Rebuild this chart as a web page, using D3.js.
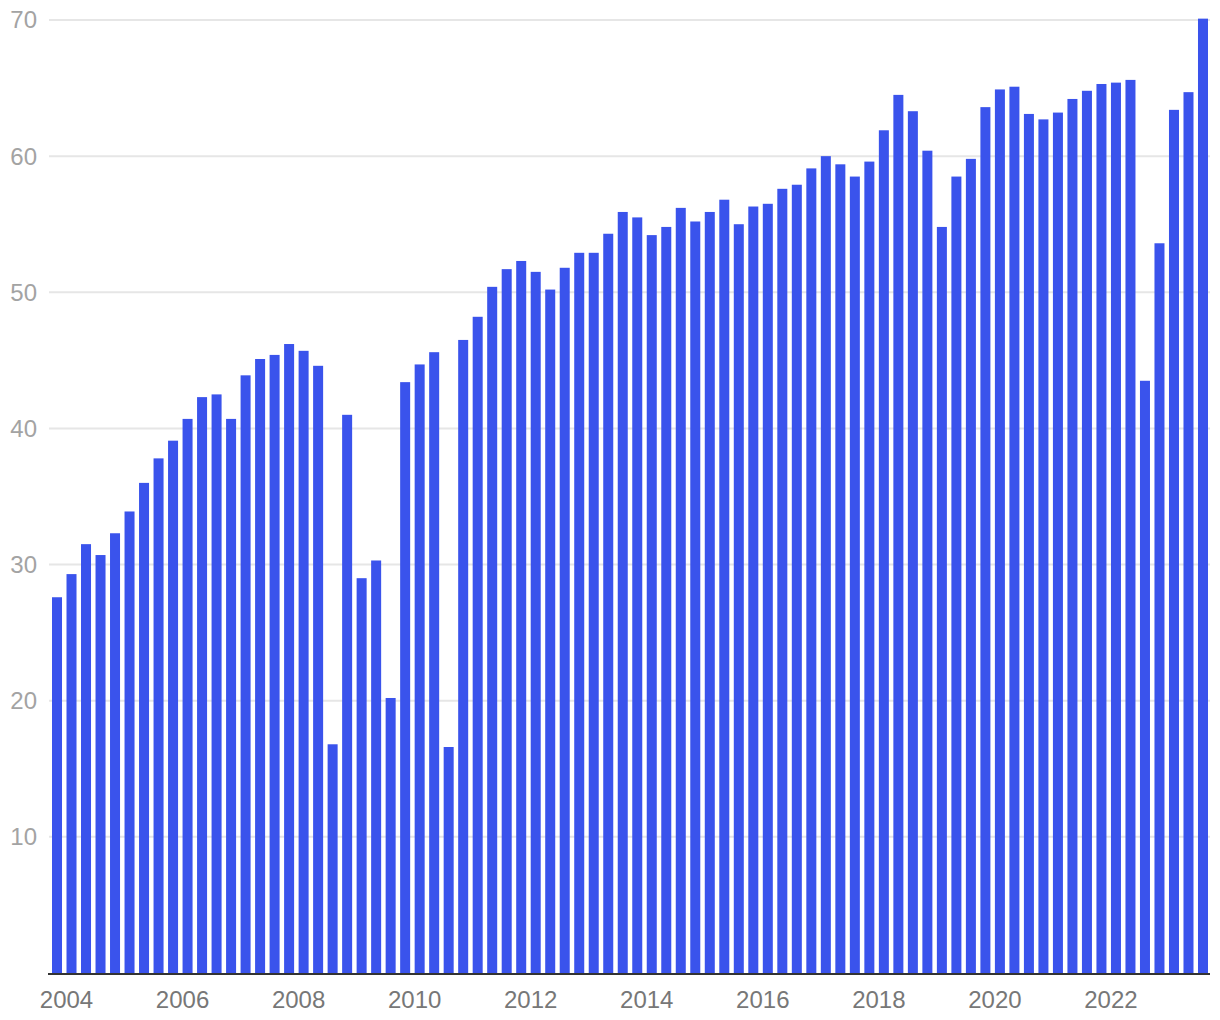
<!DOCTYPE html>
<html>
<head>
<meta charset="utf-8">
<script src="https://cdn.jsdelivr.net/npm/d3@7"></script>
<style>
  html, body { margin: 0; padding: 0; background: #fff; }
  svg { display: block; font-family: "Liberation Sans", Arial, Helvetica, sans-serif; }
</style>
</head>
<body>
<svg id="chart" width="1220" height="1020"></svg>
<script>
// Quarter categories (one bar each)
const quarters = [
  "2003 Q4",
  "2004 Q1","2004 Q2","2004 Q3","2004 Q4",
  "2005 Q1","2005 Q2","2005 Q3","2005 Q4",
  "2006 Q1","2006 Q2","2006 Q3","2006 Q4",
  "2007 Q1","2007 Q2","2007 Q3","2007 Q4",
  "2008 Q1","2008 Q2","2008 Q3","2008 Q4",
  "2009 Q1","2009 Q2","2009 Q3","2009 Q4",
  "2010 Q1","2010 Q2","2010 Q3","2010 Q4",
  "2011 Q1","2011 Q2","2011 Q3","2011 Q4",
  "2012 Q1","2012 Q2","2012 Q3","2012 Q4",
  "2013 Q1","2013 Q2","2013 Q3","2013 Q4",
  "2014 Q1","2014 Q2","2014 Q3","2014 Q4",
  "2015 Q1","2015 Q2","2015 Q3","2015 Q4",
  "2016 Q1","2016 Q2","2016 Q3","2016 Q4",
  "2017 Q1","2017 Q2","2017 Q3","2017 Q4",
  "2018 Q1","2018 Q2","2018 Q3","2018 Q4",
  "2019 Q1","2019 Q2","2019 Q3","2019 Q4",
  "2020 Q1","2020 Q2","2020 Q3","2020 Q4",
  "2021 Q1","2021 Q2","2021 Q3","2021 Q4",
  "2022 Q1","2022 Q2","2022 Q3","2022 Q4",
  "2023 Q1","2023 Q2","2023 Q3"
];

// Values
const values = [
  27.6,
  29.3, 31.5, 30.7, 32.3,
  33.9, 36.0, 37.8, 39.1,
  40.7, 42.3, 42.5, 40.7,
  43.9, 45.1, 45.4, 46.2,
  45.7, 44.6, 16.8, 41.0,
  29.0, 30.3, 20.2, 43.4,
  44.7, 45.6, 16.6, 46.5,
  48.2, 50.4, 51.7, 52.3,
  51.5, 50.2, 51.8, 52.9,
  52.9, 54.3, 55.9, 55.5,
  54.2, 54.8, 56.2, 55.2,
  55.9, 56.8, 55.0, 56.3,
  56.5, 57.6, 57.9, 59.1,
  60.0, 59.4, 58.5, 59.6,
  61.9, 64.5, 63.3, 60.4,
  54.8, 58.5, 59.8, 63.6,
  64.9, 65.1, 63.1, 62.7,
  63.2, 64.2, 64.8, 65.3,
  65.4, 65.6, 43.5, 53.6,
  63.4, 64.7, 70.1
];

// Axis tick labels
const yTicks = [10, 20, 30, 40, 50, 60, 70];
const xTickYears = ["2004", "2006", "2008", "2010", "2012", "2014", "2016", "2018", "2020", "2022"];

const data = quarters.map((q, i) => ({ q, v: values[i] }));

const svg = d3.select("#chart");

const x = d3.scaleBand()
  .domain(quarters)
  .range([52, 1208])
  .paddingInner(0.31)
  .paddingOuter(0);

const y = d3.scaleLinear()
  .domain([0, 70])
  .range([973, 20]);

const gridLeft = 49, gridRight = 1210;

// Gridlines
svg.append("g")
  .selectAll("line")
  .data(yTicks)
  .join("line")
  .attr("x1", gridLeft)
  .attr("x2", gridRight)
  .attr("y1", d => y(d))
  .attr("y2", d => y(d))
  .attr("stroke", "#e6e6e6")
  .attr("stroke-width", 2);

// Y labels
svg.append("g")
  .selectAll("text")
  .data(yTicks)
  .join("text")
  .attr("x", 37)
  .attr("y", d => y(d))
  .attr("dy", "0.35em")
  .attr("text-anchor", "end")
  .attr("font-size", 24)
  .attr("fill", "#a3a3a3")
  .text(d => d);

// Bars
svg.append("g")
  .selectAll("rect")
  .data(data)
  .join("rect")
  .attr("x", d => x(d.q))
  .attr("width", x.bandwidth())
  .attr("y", d => y(d.v))
  .attr("height", d => y(0) - y(d.v))
  .attr("fill", "#3a53ec");

// Baseline
svg.append("line")
  .attr("x1", 48)
  .attr("x2", gridRight)
  .attr("y1", y(0) + 1)
  .attr("y2", y(0) + 1)
  .attr("stroke", "#333")
  .attr("stroke-width", 2);

// X labels (at the start of each labelled year's first quarter)
svg.append("g")
  .selectAll("text")
  .data(xTickYears)
  .join("text")
  .attr("x", d => x(d + " Q1"))
  .attr("y", 1008)
  .attr("text-anchor", "middle")
  .attr("font-size", 24)
  .attr("fill", "#777")
  .text(d => d);
</script>
</body>
</html>
